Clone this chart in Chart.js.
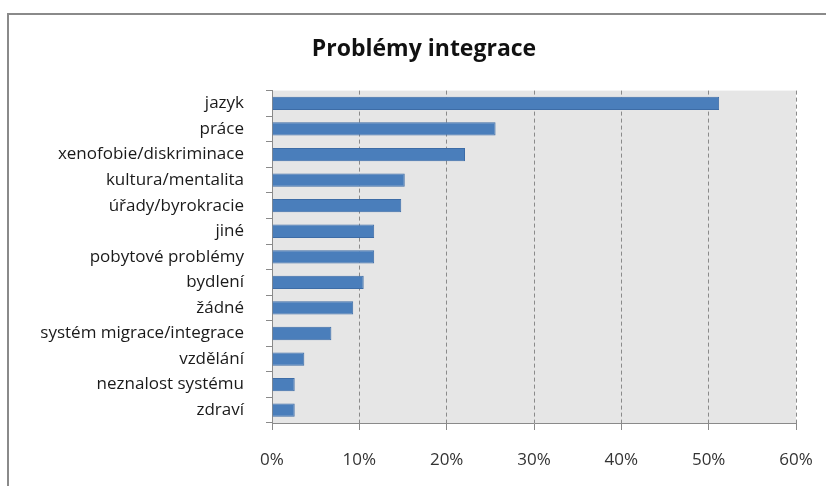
<!DOCTYPE html>
<html>
<head>
<meta charset="utf-8">
<script src="https://cdn.jsdelivr.net/npm/chart.js@4/dist/chart.umd.min.js"></script>
<style>
  html, body { margin: 0; padding: 0; background: #fff; overflow: hidden; width: 826px; height: 486px; }
  #wrap { position: absolute; left: 0; top: 0; width: 826px; height: 486px; overflow: hidden; }
  #frame { position: absolute; left: 7px; top: 13px; width: 900px; height: 600px; border-left: 2px solid #8a8a8a; border-top: 2px solid #8a8a8a; pointer-events: none; }
  #box { position: absolute; left: 0; top: 0; width: 848px; height: 486px; }
</style>
</head>
<body>
<div id="wrap">
  <div id="frame"></div>
  <div id="box"><canvas id="c"></canvas></div>
</div>
<script>
const chartTitle = "Problémy integrace";
const categories = [
  "jazyk", "práce", "xenofobie/diskriminace", "kultura/mentalita", "úřady/byrokracie",
  "jiné", "pobytové problémy", "bydlení", "žádné", "systém migrace/integrace",
  "vzdělání", "neznalost systému", "zdraví"
];
const values = [51.2, 25.6, 22.1, 15.2, 14.8, 11.7, 11.7, 10.5, 9.3, 6.8, 3.7, 2.6, 2.6];
const xTicks = [0, 10, 20, 30, 40, 50, 60];

const plotBg = {
  id: 'plotBg',
  beforeDraw(chart) {
    const a = chart.chartArea, ctx = chart.ctx;
    ctx.save();
    ctx.fillStyle = '#e6e6e6';
    ctx.fillRect(a.left, a.top, a.right - a.left, a.bottom - a.top);
    ctx.restore();
  }
};

new Chart(document.getElementById('c'), {
  type: 'bar',
  data: {
    labels: categories,
    datasets: [{
      data: values,
      backgroundColor: '#4a7ebb',
      borderColor: '#3d6ca6',
      borderWidth: 1,
      categoryPercentage: 1,
      barPercentage: 0.52
    }]
  },
  options: {
    indexAxis: 'y',
    responsive: true,
    maintainAspectRatio: false,
    devicePixelRatio: 1,
    animation: false,
    layout: { padding: { left: 0, right: 0, top: 0, bottom: 0 } },
    plugins: {
      legend: { display: false },
      tooltip: { enabled: false },
      title: {
        display: true,
        text: chartTitle,
        color: '#111',
        font: { family: 'Open Sans', size: 23, weight: 'bold', lineHeight: 1.2 },
        padding: { top: 36, bottom: 27 }
      }
    },
    scales: {
      x: {
        min: 0, max: 60,
        afterBuildTicks(scale) { scale.ticks = xTicks.map(v => ({ value: v })); },
        afterFit(scale) { scale.height = 63; },
        ticks: {
          callback: v => v + '%',
          color: '#333',
          font: { family: 'Open Sans', size: 17, lineHeight: 1.2 },
          padding: 20,
          maxRotation: 0
        },
        grid: { color: '#8a8a8a', tickLength: 7, tickBorderDash: [], lineWidth: 1 },
        border: { display: true, color: '#8a8a8a', width: 1, dash: [4, 3] }
      },
      y: {
        afterFit(scale) { scale.width = 272; },
        ticks: {
          color: '#1a1a1a',
          font: { family: 'Open Sans', size: 17, lineHeight: 1.2 },
          padding: 22,
          autoSkip: false
        },
        grid: { drawOnChartArea: false, color: '#8a8a8a', tickLength: 6, offset: true },
        border: { display: true, color: '#8a8a8a', width: 1 }
      },
      spacer: {
        type: 'linear',
        position: 'right',
        display: true,
        ticks: { display: false },
        grid: { display: false, drawTicks: false },
        border: { display: false },
        afterFit(scale) { scale.width = 52; }
      }
    }
  },
  plugins: [plotBg]
});
</script>
</body>
</html>
